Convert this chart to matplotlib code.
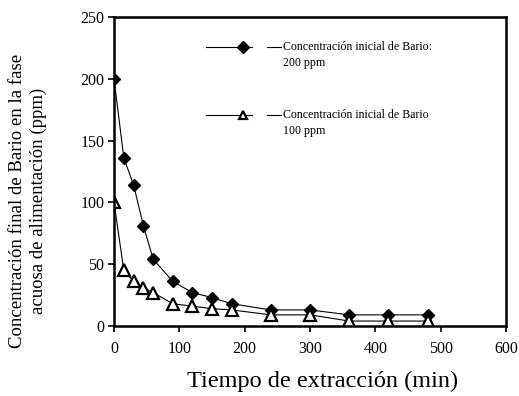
import matplotlib
matplotlib.use("Agg")
import matplotlib.pyplot as plt

plt.rcParams["font.family"] = ["Liberation Serif", "DejaVu Serif"]

tiempo = [0, 15, 30, 45, 60, 90, 120, 150, 180, 240, 300, 360, 420, 480]
bario_200 = [200, 136, 114, 81, 54, 36, 27, 23, 18, 13, 13, 9, 9, 9]
bario_100 = [100, 45, 36, 31, 27, 18, 16, 14, 13, 9, 9, 4, 4, 4]

label_200 = "Concentración inicial de Bario:\n200 ppm"
label_100 = "Concentración inicial de Bario\n100 ppm"

fig = plt.figure(figsize=(5.19, 3.96), dpi=100)
ax = fig.add_axes([0.2197, 0.1768, 0.7553, 0.7803])

ax.plot(tiempo, bario_200, color="black", linewidth=0.8,
        marker="D", markersize=6.5, markerfacecolor="black", markeredgecolor="black")
ax.plot(tiempo, bario_100, color="black", linewidth=0.8,
        marker="^", markersize=8.5, markerfacecolor="white",
        markeredgecolor="black", markeredgewidth=1.6)

ax.set_xlim(0, 600)
ax.set_ylim(0, 250)
ax.set_xticks(range(0, 601, 100))
ax.set_yticks(range(0, 251, 50))
ax.tick_params(direction="out", length=4, width=1.2, labelsize=11.5, colors="black")
ax.tick_params(axis="x", pad=7)
ax.tick_params(axis="y", pad=3)
for s in ax.spines.values():
    s.set_linewidth(1.8)

ax.set_xlabel("Tiempo de extracción (min)", fontsize=17.5)
ax.xaxis.set_label_coords(0.533, -0.145)
ax.set_ylabel("Concentración final de Bario en la fase\nacuosa de alimentación (ppm)",
              fontsize=13.5, linespacing=1.3)
ax.yaxis.set_label_coords(-0.17, 0.405)

# legend drawn by hand, Excel style
legend_rows = [(0.903, "D", 6.5, "black", label_200), (0.683, "^", 6, "white", label_100)]
for y, mk, ms, fc, txt in legend_rows:
    ax.plot([0.235, 0.352], [y, y], color="black", linewidth=0.8, transform=ax.transAxes)
    ax.plot([0.329], [y], marker=mk, markersize=ms, markerfacecolor=fc,
            markeredgecolor="black", markeredgewidth=1.6 if fc == "white" else 1,
            transform=ax.transAxes)
    ax.plot([0.39, 0.425], [y, y], color="black", linewidth=0.8, transform=ax.transAxes)
    ax.text(0.431, y + 0.02, txt, transform=ax.transAxes, fontsize=8.6,
            va="top", ha="left", linespacing=1.5)

fig.savefig("out.png", dpi=100)
